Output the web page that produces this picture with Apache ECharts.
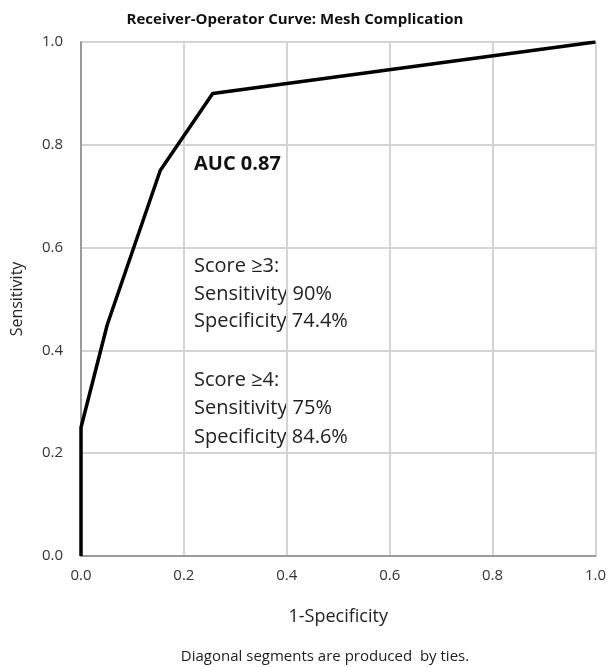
<!DOCTYPE html>
<html>
<head>
<meta charset="utf-8">
<script src="https://cdn.jsdelivr.net/npm/echarts@6/dist/echarts.min.js"></script>
<style>html,body{margin:0;padding:0;background:#fff;}#c{width:609px;height:667px;}</style>
</head>
<body>
<div id="c"></div>
<script>
const fpr = [0, 0, 0.051, 0.154, 0.256, 1];
const tpr = [0, 0.25, 0.45, 0.75, 0.90, 1];
const xTicks = [0, 0.2, 0.4, 0.6, 0.8, 1.0];
const yTicks = [0, 0.2, 0.4, 0.6, 0.8, 1.0];
const titleText = 'Receiver-Operator Curve: Mesh Complication';
const xName = '1-Specificity';
const yName = 'Sensitivity';
const footnote = 'Diagonal segments are produced  by ties.';
const aucText = 'AUC 0.87';
const score3 = ['Score \u22653:', 'Sensitivity 90%', 'Specificity 74.4%'];
const score4 = ['Score \u22654:', 'Sensitivity 75%', 'Specificity 84.6%'];

const FONT = '"Open Sans", "Noto Sans", sans-serif';
const chart = echarts.init(document.getElementById('c'), null, {renderer: 'canvas'});
chart.setOption({
  animation: false,
  backgroundColor: '#fff',
  textStyle: {fontFamily: FONT},
  title: {
    text: titleText, left: 290, top: 7, textAlign: 'center',
    textStyle: {fontSize: 15, fontWeight: 'bold', color: '#111', fontFamily: FONT}
  },
  grid: {left: 81, right: 10, top: 42, bottom: 111, show: true, borderColor: '#c8c8c8', borderWidth: 1},
  xAxis: {
    type: 'value', min: 0, max: 1, interval: 0.2,
    name: xName, nameLocation: 'middle', nameGap: 52,
    nameTextStyle: {fontSize: 18, color: '#222', fontFamily: FONT},
    axisLine: {show: true, onZero: false, lineStyle: {color: '#9a9a9a', width: 2}},
    axisTick: {show: false},
    axisLabel: {fontSize: 15, color: '#333', margin: 12, formatter: v => v.toFixed(1)},
    splitLine: {show: true, lineStyle: {color: '#d4d4d4', width: 2}}
  },
  yAxis: {
    type: 'value', min: 0, max: 1, interval: 0.2,
    name: yName, nameLocation: 'middle', nameGap: 56, nameRotate: 90,
    nameTextStyle: {fontSize: 16, color: '#222', fontFamily: FONT},
    axisLine: {show: true, onZero: false, lineStyle: {color: '#9a9a9a', width: 2}},
    axisTick: {show: false},
    axisLabel: {fontSize: 15, color: '#333', margin: 18, formatter: v => v.toFixed(1)},
    splitLine: {show: true, lineStyle: {color: '#d4d4d4', width: 2}}
  },
  series: [{
    type: 'line',
    data: fpr.map((x, i) => [x, tpr[i]]),
    showSymbol: false,
    symbol: 'none',
    lineStyle: {color: '#000', width: 3.5, join: 'round'},
    z: 5
  }],
  graphic: [
    {type: 'text', left: 194, top: 150, style: {text: aucText, font: 'bold 20px ' + FONT, lineHeight: 28, fill: '#111'}},
    {type: 'text', left: 194, top: 253, style: {text: score3.join('\n'), font: '20px ' + FONT, lineHeight: 27.5, fill: '#222'}},
    {type: 'text', left: 194, top: 366, style: {text: score4.join('\n'), font: '20px ' + FONT, lineHeight: 28.5, fill: '#222'}},
    {type: 'text', x: 325, y: 657, style: {text: footnote, font: '15px ' + FONT, fill: '#222', align: 'center', verticalAlign: 'middle'}}
  ]
});
</script>
</body>
</html>
